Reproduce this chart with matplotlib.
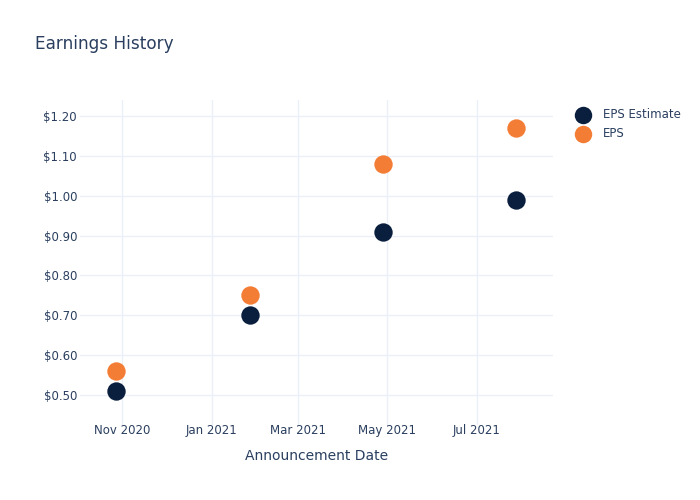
import numpy as np
import pandas as pd
import matplotlib
matplotlib.use("Agg")
import matplotlib.pyplot as plt
import matplotlib.dates as mdates
from matplotlib.ticker import FuncFormatter

# ── data ───────────────────────────────────────────────────────────────────────
dates = pd.to_datetime(["2020-10-28", "2021-01-27", "2021-04-28", "2021-07-28"])
eps_estimate = [0.51, 0.70, 0.91, 0.99]
eps_actual = [0.56, 0.75, 1.08, 1.17]

TEXT = "#2a3f5f"
GRID = "#ebf0f8"
NAVY = "#0a1e3e"
ORANGE = "#f47d35"

fig = plt.figure(figsize=(7, 5), dpi=100)
ax = fig.add_axes([0.114, 0.15, 0.676, 0.65])

ax.scatter(dates, eps_estimate, s=175, color=NAVY, label="EPS Estimate", zorder=3,
           linewidths=0)
ax.scatter(dates, eps_actual, s=175, color=ORANGE, label="EPS", zorder=3,
           linewidths=0)

ax.set_xlim(pd.Timestamp("2020-10-03"), pd.Timestamp("2021-08-22"))
ax.set_ylim(0.425, 1.24)

ax.xaxis.set_major_locator(mdates.MonthLocator(bymonth=[1, 3, 5, 7, 11]))
ax.xaxis.set_major_formatter(mdates.DateFormatter("%b %Y"))
ax.set_yticks(np.arange(0.5, 1.21, 0.1))
ax.yaxis.set_major_formatter(FuncFormatter(lambda v, _: f"${v:.2f}"))

ax.grid(True, color=GRID, lw=1)
ax.set_axisbelow(True)
for s in ax.spines.values():
    s.set_visible(False)
ax.tick_params(length=0, labelsize=8.5, labelcolor=TEXT)
ax.tick_params(axis="x", pad=-1)
ax.tick_params(axis="y", pad=2)

ax.set_xlabel("Announcement Date", fontsize=10, color=TEXT, labelpad=9)
fig.text(0.05, 0.912, "Earnings History", fontsize=12.2, color=TEXT, va="center")

ax.legend(loc="upper left", bbox_to_anchor=(1.02, 1.0), frameon=False,
          fontsize=8.5, labelcolor=TEXT, handletextpad=0.7, labelspacing=0.5,
          markerscale=0.95, borderaxespad=0.3)

fig.savefig("out.png", dpi=100)
